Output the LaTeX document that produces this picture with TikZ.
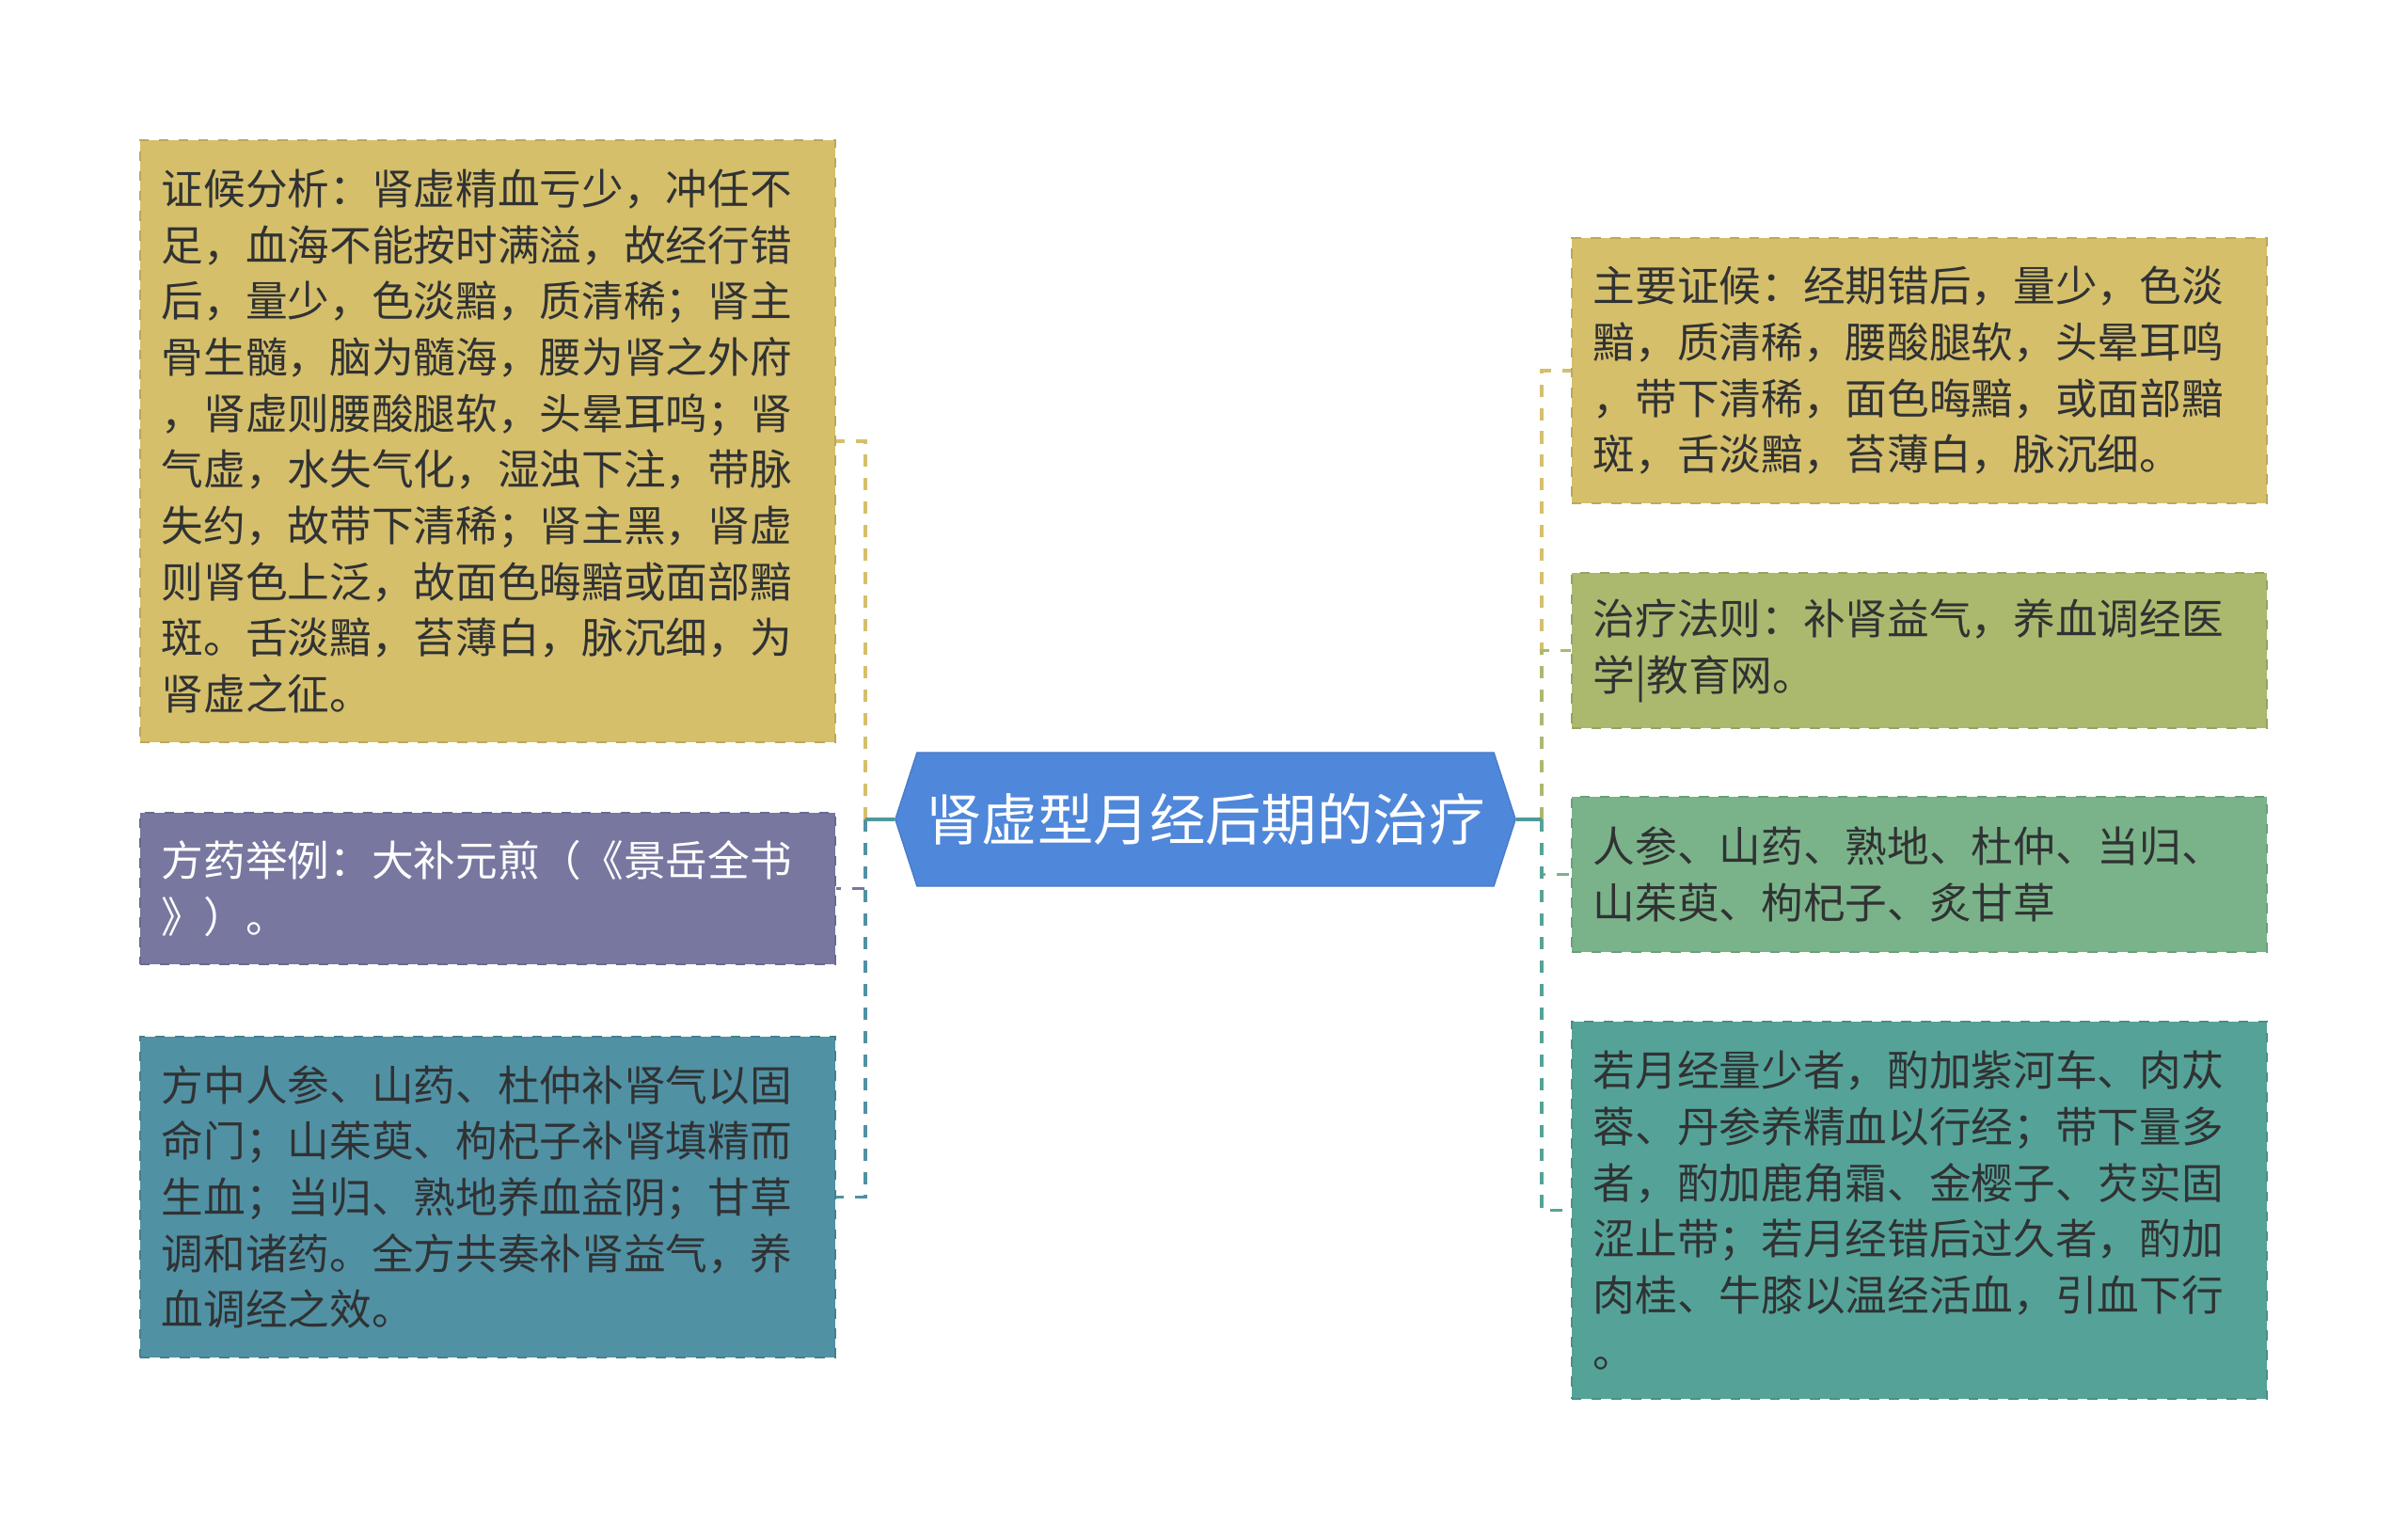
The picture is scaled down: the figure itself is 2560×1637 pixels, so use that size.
\documentclass[tikz,border=0pt]{standalone}
\usepackage{fontspec}
\setmainfont{Noto Sans CJK SC}
\usetikzlibrary{shapes.symbols}
\definecolor{gold}{HTML}{D5BF6B}
\definecolor{plum}{HTML}{7877A0}
\definecolor{steel}{HTML}{5191A4}
\definecolor{olive}{HTML}{ABB96E}
\definecolor{leafgreen}{HTML}{7AB38A}
\definecolor{sea}{HTML}{55A398}
\definecolor{rootblue}{HTML}{4F87DA}
\definecolor{trunkcol}{HTML}{4E9A98}
\definecolor{ink}{HTML}{303233}
\begin{document}
\begin{tikzpicture}[x=0.01cm, y=-0.01cm,
		every node/.style = {font=\fontsize{12.7}{16.96}\selectfont, text=ink},
		leaf/.style = {draw=#1!88!black, fill=#1, dashed, line width=0.6pt, inner xsep=0.23cm, inner ysep=0pt, text width=6.93cm, align=left},
		root/.style = {signal, signal to=west and east, signal pointer angle=144, fill=rootblue, draw=rootblue!92!black, text=white, font=\fontsize{16.9}{20}\selectfont, minimum width=6.59cm, minimum height=1.42cm, inner xsep=0pt},
		link/.style = {draw=#1, line width=1.1pt, dash pattern=on 3.7pt off 3.4pt},
		trunk/.style = {draw=trunkcol, line width=1.1pt}]
		
		\useasboundingbox (0,0) rectangle (2560,1637);
		
		\node[root] (root) at (1281.5,871) {肾虚型月经后期的治疗};
		
		\node[leaf=gold, minimum height=6.40cm] (l1) at (518.5,469) {证候分析：肾虚精血亏少，冲任不\\足，血海不能按时满溢，故经行错\\后，量少，色淡黯，质清稀；肾主\\骨生髓，脑为髓海，腰为肾之外府\\，肾虚则腰酸腿软，头晕耳鸣；肾\\气虚，水失气化，湿浊下注，带脉\\失约，故带下清稀；肾主黑，肾虚\\则肾色上泛，故面色晦黯或面部黯\\斑。舌淡黯，苔薄白，脉沉细，为\\肾虚之征。};
		\node[leaf=plum, text=white, minimum height=1.61cm] (l2) at (518.5,944.5) {方药举例：大补元煎（《景岳全书\\》）。};
		\node[leaf=steel, minimum height=3.41cm] (l3) at (518.5,1272.5) {方中人参、山药、杜仲补肾气以固\\命门；山茱萸、枸杞子补肾填精而\\生血；当归、熟地养血益阴；甘草\\调和诸药。全方共奏补肾益气，养\\血调经之效。};
		
		\node[leaf=gold, minimum height=2.82cm] (r1) at (2040.5,394) {主要证候：经期错后，量少，色淡\\黯，质清稀，腰酸腿软，头晕耳鸣\\，带下清稀，面色晦黯，或面部黯\\斑，舌淡黯，苔薄白，脉沉细。};
		\node[leaf=olive, minimum height=1.65cm] (r2) at (2040.5,691.5) {治疗法则：补肾益气，养血调经医\\学|教育网。};
		\node[leaf=leafgreen, minimum height=1.65cm] (r3) at (2040.5,929.5) {人参、山药、熟地、杜仲、当归、\\山茱萸、枸杞子、炙甘草};
		\node[leaf=sea, minimum height=4.01cm] (r4) at (2040.5,1286.5) {若月经量少者，酌加紫河车、肉苁\\蓉、丹参养精血以行经；带下量多\\者，酌加鹿角霜、金樱子、芡实固\\涩止带；若月经错后过久者，酌加\\肉桂、牛膝以温经活血，引血下行\\。};
		
		\coordinate (ljoin) at (920,871);
		\coordinate (rjoin) at (1639,871);
		
		\draw[link=gold] (ljoin) |- (l1.east);
		\draw[link=plum] (ljoin) |- (l2.east);
		\draw[link=steel] (ljoin) |- (l3.east);
		\draw[link=gold] (rjoin) |- (r1.west);
		\draw[link=olive] (rjoin) |- (r2.west);
		\draw[link=leafgreen] (rjoin) |- (r3.west);
		\draw[link=sea] (rjoin) |- (r4.west);
		\draw[trunk] (root.west) -- (ljoin);
		\draw[trunk] (root.east) -- (rjoin);
		\end{tikzpicture}
\end{document}
